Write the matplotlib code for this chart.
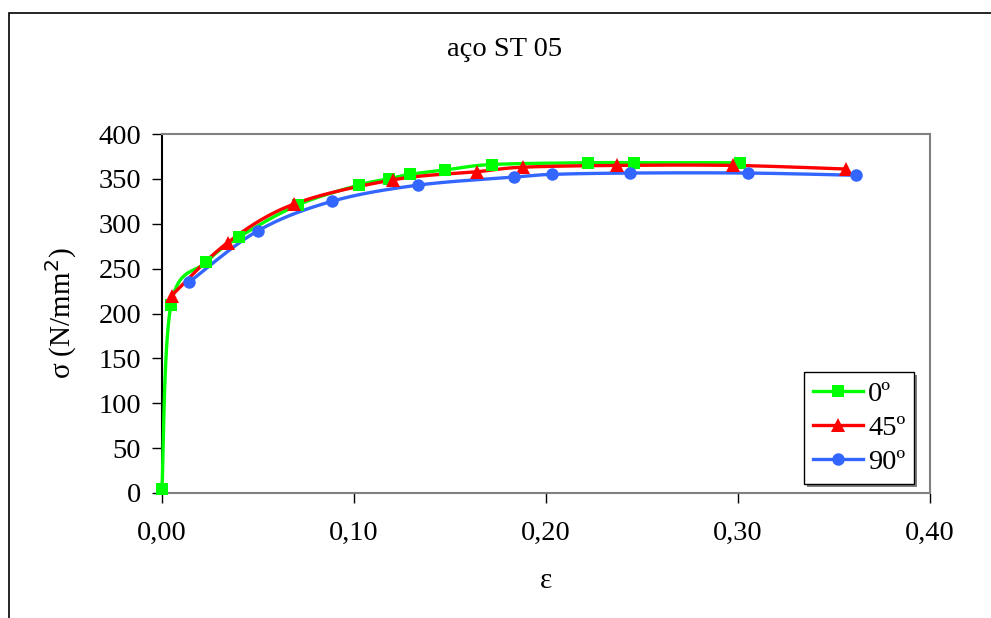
import numpy as np
import matplotlib
matplotlib.use("Agg")
import matplotlib.pyplot as plt
from matplotlib.patches import Rectangle
from matplotlib.lines import Line2D

plt.rcParams['font.family'] = ['Liberation Serif', 'DejaVu Serif']

# Data
eps_0 = [0.0, 0.0047, 0.0229, 0.0400, 0.0708, 0.1024, 0.1180, 0.1290, 0.1476, 0.1717, 0.2220, 0.2460, 0.3010]
sig_0 = [5, 210, 257, 285, 321, 343, 350, 355, 360, 366, 368, 368, 368]

eps_45 = [0.0050, 0.0342, 0.0688, 0.1205, 0.1642, 0.1880, 0.2370, 0.2976, 0.3560]
sig_45 = [220, 279, 322, 349, 358, 363, 365, 365, 361]

eps_90 = [0.0142, 0.0498, 0.0885, 0.1332, 0.1835, 0.2030, 0.2440, 0.3050, 0.3613]
sig_90 = [235, 292, 325, 343, 352, 355, 356.5, 356.5, 354]

labels = ['0º', '45º', '90º']
colors = ['#00ff00', '#ff0000', '#3366ff']
markers = ['s', '^', 'o']

x_ticks = [0.0, 0.1, 0.2, 0.3, 0.4]
x_ticklabels = ['0,00', '0,10', '0,20', '0,30', '0,40']
y_ticks = [0, 50, 100, 150, 200, 250, 300, 350, 400]

W, H = 991, 618
fig = plt.figure(figsize=(W / 100, H / 100), dpi=100)
ax = fig.add_axes([162 / W, 1 - 493 / H, (930 - 162) / W, (493 - 134) / H])

SX = 1920.0   # px per unit strain (for smoothing in screen-like space)
SY = 0.8975   # px per MPa


def smooth(xs, ys, n=30):
    px = np.array(xs) * SX
    py = np.array(ys) * SY
    P = np.column_stack([px, py])
    P = np.vstack([P[0], P, P[-1]])
    out = []
    for i in range(1, len(P) - 2):
        p0, p1, p2, p3 = P[i - 1], P[i], P[i + 1], P[i + 2]
        t = np.linspace(0, 1, n)[:, None]
        c1 = p1 + (p2 - p0) / 6.0
        c2 = p2 - (p3 - p1) / 6.0
        b = ((1 - t) ** 3) * p1 + 3 * ((1 - t) ** 2) * t * c1 + 3 * (1 - t) * t ** 2 * c2 + t ** 3 * p2
        out.append(b if i == 1 else b[1:])
    out = np.vstack(out)
    return out[:, 0] / SX, out[:, 1] / SY


series = [(eps_0, sig_0), (eps_45, sig_45), (eps_90, sig_90)]
handles = []
for (xs, ys), lab, c, m in zip(series, labels, colors, markers):
    sx, sy = smooth(xs, ys)
    ax.plot(sx, sy, color=c, lw=2.4, zorder=3, solid_capstyle='round', clip_on=False)
    ms = 9 if m == 'o' else (9.5 if m == '^' else 8.3)
    ax.plot(xs, ys, linestyle='none', marker=m, color=c, markersize=ms,
            markeredgewidth=0, zorder=4, clip_on=False)
    handles.append(Line2D([0], [0], color=c, lw=2.4, marker=m, markersize=ms,
                          markeredgewidth=0))

ax.set_xlim(0, 0.4)
ax.set_ylim(0, 400)
ax.set_xticks(x_ticks)
ax.set_xticklabels(x_ticklabels)
ax.set_yticks(y_ticks)
ax.tick_params(axis='both', direction='out', length=7, width=1, labelsize=20.5,
               colors='black')
ax.tick_params(axis='x', pad=13)
ax.tick_params(axis='y', pad=8)

for s in ['top', 'right', 'bottom']:
    ax.spines[s].set_color('#808080')
    ax.spines[s].set_linewidth(1.5)
ax.spines['left'].set_color('black')
ax.spines['left'].set_linewidth(1.5)

ax.set_xlabel('ε', fontsize=21, labelpad=16)
ax.set_ylabel('σ (N/mm$^2$)', fontsize=21, labelpad=14)
fig.text(505 / W, 1 - 50 / H, 'aço ST 05', ha='center', va='center', fontsize=20.5)

leg = ax.legend(handles, labels, loc='lower right', bbox_to_anchor=(914 / W, 1 - 484 / H),
                bbox_transform=fig.transFigure, fontsize=20.5, frameon=True,
                fancybox=False, shadow=False, handlelength=1.75, handletextpad=0.2,
                borderpad=0.3, labelspacing=0.3, borderaxespad=0)
leg.get_frame().set_edgecolor('black')
leg.get_frame().set_linewidth(1.0)
leg.get_frame().set_facecolor('white')
leg.get_frame().set_alpha(1)
leg.set_zorder(10)
# shadow
fig.canvas.draw()
bb = leg.get_window_extent().transformed(fig.transFigure.inverted())
ax.add_patch(Rectangle((bb.x0 + 3 / W, bb.y0 - 3 / H), bb.width, bb.height,
                       transform=fig.transFigure, facecolor='#808080',
                       edgecolor='none', zorder=9, clip_on=False))

# outer border
fig.patches.append(Rectangle((9 / W, -0.05), 1.2, 1 - 13 / H + 0.05,
                             transform=fig.transFigure, facecolor='none',
                             edgecolor='black', linewidth=1.2, zorder=0))

fig.savefig('out.png', dpi=100)
